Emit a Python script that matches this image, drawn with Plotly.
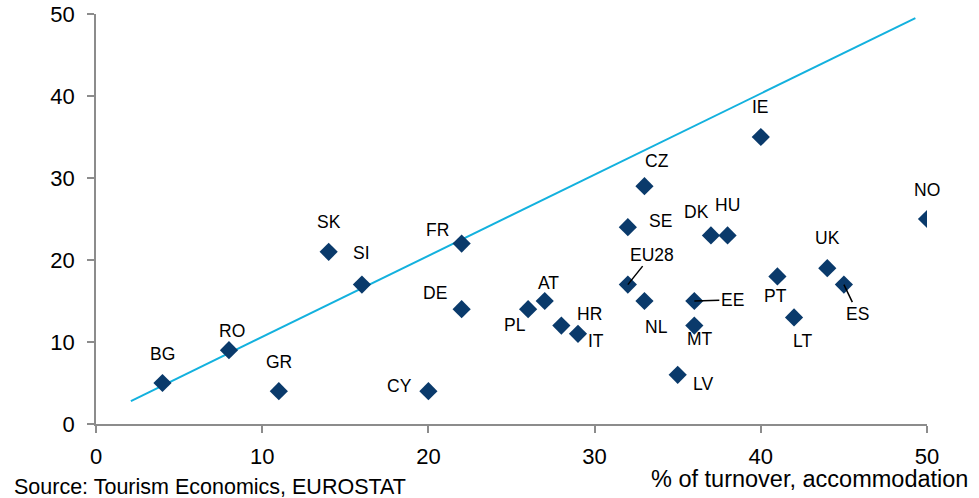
import plotly.graph_objects as go

# Dados
paises = ['BG', 'RO', 'GR', 'SK', 'SI', 'FR', 'DE', 'CY', 'PL', 'AT', 'HR', 'IT', 'EU28', 'SE', 'CZ',
          'NL', 'DK', 'HU', 'IE', 'EE', 'MT', 'LV', 'PT', 'LT', 'UK', 'ES', 'NO']
turnover = [4, 8, 11, 14, 16, 22, 22, 20, 26, 27, 28, 29, 32, 32, 33,
            33, 37, 38, 40, 36, 36, 35, 41, 42, 44, 45, 50]
valores_y = [5, 9, 4, 21, 17, 22, 14, 4, 14, 15, 12, 11, 17, 24, 29,
             15, 23, 23, 35, 15, 12, 6, 18, 13, 19, 17, 25]

# linha de referência
linha_x = [2.1, 49.3]
linha_y = [2.8, 49.5]

# deslocamento dos rótulos em pixels (dx, dy), e se tem linha guia
rotulos = {
    'BG': (0, -29, False), 'RO': (3, -19, False), 'GR': (0, -29, False), 'SK': (0, -30, False),
    'SI': (0, -32, False), 'FR': (-24, -14, False), 'DE': (-27, -16, False), 'CY': (-29, -5, False),
    'PL': (-13, 16, False), 'AT': (4, -18, False), 'HR': (28, -12, False), 'IT': (18, 7, False),
    'EU28': (24, -30, True), 'SE': (33, -6, False), 'CZ': (13, -25, False), 'NL': (12, 26, False),
    'DK': (-14, -23, False), 'HU': (0, -30, False), 'IE': (0, -30, False), 'EE': (38, -1, True),
    'MT': (6, 13, False), 'LV': (25, 9, False), 'PT': (-2, 20, False), 'LT': (8, 24, False),
    'UK': (0, -30, False), 'ES': (14, 29, True), 'NO': (0, -29, False),
}

fonte = 'Liberation Sans, Arial, sans-serif'

fig = go.Figure()
fig.add_trace(go.Scatter(x=linha_x, y=linha_y, mode='lines',
                         line=dict(color='#13B1DE', width=2), hoverinfo='skip'))
fig.add_trace(go.Scatter(x=turnover, y=valores_y, mode='markers', text=paises,
                         marker=dict(symbol='diamond', size=14, color='#0A3A6B')))

for p, x, y in zip(paises, turnover, valores_y):
    dx, dy, guia = rotulos[p]
    if guia:
        fig.add_annotation(x=x, y=y, text=p, showarrow=True, ax=dx, ay=dy,
                           arrowhead=0, arrowwidth=1.5, arrowcolor='black', standoff=0,
                           font=dict(size=17.5, color='black', family=fonte))
    else:
        fig.add_annotation(x=x, y=y, text=p, showarrow=False, xshift=dx, yshift=-dy,
                           font=dict(size=17.5, color='black', family=fonte))

fig.add_annotation(text='Source: Tourism Economics, EUROSTAT', xref='paper', yref='paper',
                   x=-0.101, y=-0.154, xanchor='left', yanchor='middle', showarrow=False,
                   font=dict(size=21.5, color='black', family=fonte))
fig.add_annotation(text='% of turnover, accommodation', xref='paper', yref='paper',
                   x=1.052, y=-0.133, xanchor='right', yanchor='middle', showarrow=False,
                   font=dict(size=23.5, color='black', family=fonte))

fig.update_layout(
    width=979, height=498,
    margin=dict(l=96, r=52, t=14, b=74),
    plot_bgcolor='white', paper_bgcolor='white',
    showlegend=False,
    font=dict(family=fonte, color='black'),
)
fig.update_xaxes(range=[0, 50], dtick=10, showgrid=False, zeroline=False, automargin=False,
                 showline=True, linecolor='#8C8C8C', linewidth=1.5,
                 ticks='outside', ticklen=7, tickcolor='#8C8C8C', tickwidth=1.5,
                 tickfont=dict(size=22), ticklabelstandoff=5)
fig.update_yaxes(range=[0, 50], dtick=10, showgrid=False, zeroline=False, automargin=False,
                 showline=True, linecolor='#8C8C8C', linewidth=1.5,
                 ticks='outside', ticklen=7, tickcolor='#8C8C8C', tickwidth=1.5,
                 tickfont=dict(size=22), ticklabelstandoff=8)

# tira a margem padrão do body para o gráfico ocupar a janela inteira
fig.write_html('out.html', config={'displayModeBar': False},
               post_script="document.body.style.margin='0';")
